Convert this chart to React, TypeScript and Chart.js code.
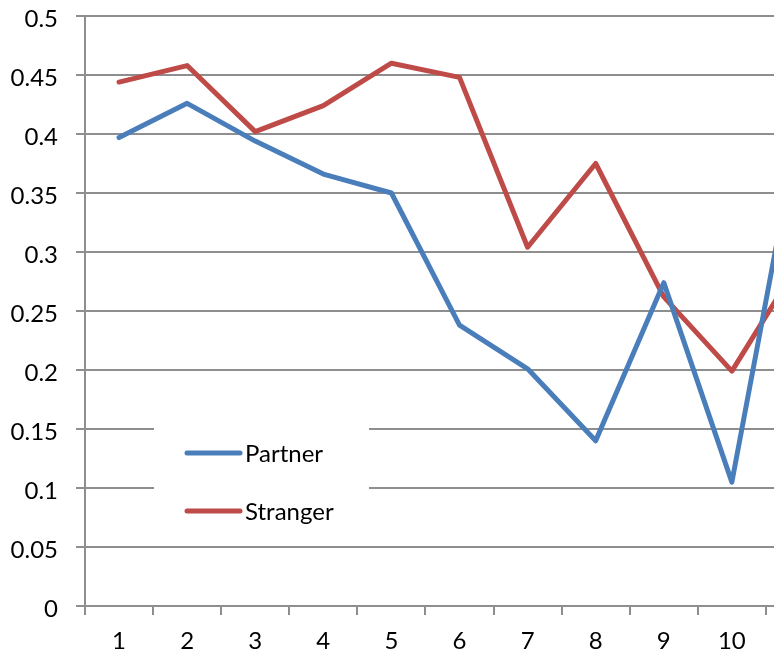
import { useEffect, useRef } from 'react';
import { Chart, registerables } from 'chart.js';

Chart.register(...registerables);

const categories = ['1', '2', '3', '4', '5', '6', '7', '8', '9', '10', '11'];
const partner = [0.397, 0.426, 0.394, 0.366, 0.35, 0.238, 0.201, 0.14, 0.274, 0.105, 0.412];
const stranger = [0.444, 0.458, 0.402, 0.424, 0.46, 0.448, 0.304, 0.375, 0.262, 0.199, 0.292];
const yTicks = [0, 0.05, 0.1, 0.15, 0.2, 0.25, 0.3, 0.35, 0.4, 0.45, 0.5];
const seriesNames = ['Partner', 'Stranger'];
const seriesColors = ['#4A7EBB', '#BE4B48'];

const FONT = 'Lato';
const GRID = '#8e8e8e';

const insetLegend = {
  id: 'insetLegend',
  beforeDatasetsDraw(chart: any) {
    const { ctx, chartArea } = chart;
    const l = chartArea.left;
    const t = chartArea.top;
    ctx.save();
    ctx.fillStyle = '#ffffff';
    ctx.fillRect(l + 69, t + 375, 215, 150);
    chart.data.datasets.forEach((ds: any, i: number) => {
      const y = t + 437 + i * 58;
      ctx.strokeStyle = ds.borderColor;
      ctx.lineWidth = 5;
      ctx.lineCap = 'round';
      ctx.beginPath();
      ctx.moveTo(l + 102, y);
      ctx.lineTo(l + 155, y);
      ctx.stroke();
      ctx.fillStyle = '#000000';
      ctx.font = `24px ${FONT}`;
      ctx.textBaseline = 'middle';
      ctx.textAlign = 'left';
      ctx.fillText(ds.label, l + 160, y + 1);
    });
    ctx.restore();
  },
};

export default function App() {
  const ref = useRef<HTMLCanvasElement | null>(null);
  useEffect(() => {
    if (!ref.current) return;
    const chart = new Chart(ref.current, {
      type: 'line',
      data: {
        labels: categories,
        datasets: [
          {
            label: seriesNames[0],
            data: partner,
            borderColor: seriesColors[0],
            backgroundColor: seriesColors[0],
            borderWidth: 5,
            pointRadius: 0,
            tension: 0,
            borderJoinStyle: 'round',
            borderCapStyle: 'round',
          },
          {
            label: seriesNames[1],
            data: stranger,
            borderColor: seriesColors[1],
            backgroundColor: seriesColors[1],
            borderWidth: 5,
            pointRadius: 0,
            tension: 0,
            borderJoinStyle: 'round',
            borderCapStyle: 'round',
          },
        ],
      },
      options: {
        responsive: false,
        animation: false,
        layout: { padding: { left: 0, top: 16, right: 6, bottom: 0 } },
        plugins: {
          legend: { display: false },
          tooltip: { enabled: false },
        },
        scales: {
          x: {
            type: 'category',
            offset: true,
            grid: {
              offset: true,
              drawOnChartArea: false,
              drawTicks: true,
              tickLength: 9,
              color: GRID,
              lineWidth: 2,
            },
            border: { display: true, color: GRID, width: 2 },
            ticks: {
              color: '#000000',
              font: { family: FONT, size: 24 },
              padding: 12,
              maxRotation: 0,
              autoSkip: false,
            },
            afterFit: (scale: any) => {
              scale.height = 46;
              scale.paddingLeft = 0;
              scale.paddingRight = 0;
            },
          },
          y: {
            min: 0,
            max: 0.5,
            afterBuildTicks: (scale: any) => {
              scale.ticks = yTicks.map((v) => ({ value: v }));
            },
            grid: {
              drawTicks: true,
              tickLength: 9,
              color: GRID,
              lineWidth: 2,
            },
            border: { display: true, color: GRID, width: 2 },
            ticks: {
              color: '#000000',
              font: { family: FONT, size: 24 },
              padding: 18,
              labelOffset: 3,
              callback: (v: any) => String(Number(Number(v).toFixed(2))),
            },
            afterFit: (scale: any) => {
              scale.width = 85;
              scale.paddingTop = 0;
              scale.paddingBottom = 0;
            },
          },
        },
      },
      plugins: [insetLegend],
    });
    return () => chart.destroy();
  }, []);
  return (
    <div
      style={{
        position: 'absolute',
        left: 0,
        top: 0,
        width: 774,
        height: 652,
        overflow: 'hidden',
        background: '#ffffff',
      }}
    >
      <canvas ref={ref} width={840} height={652} style={{ width: 840, height: 652, display: 'block' }} />
    </div>
  );
}
